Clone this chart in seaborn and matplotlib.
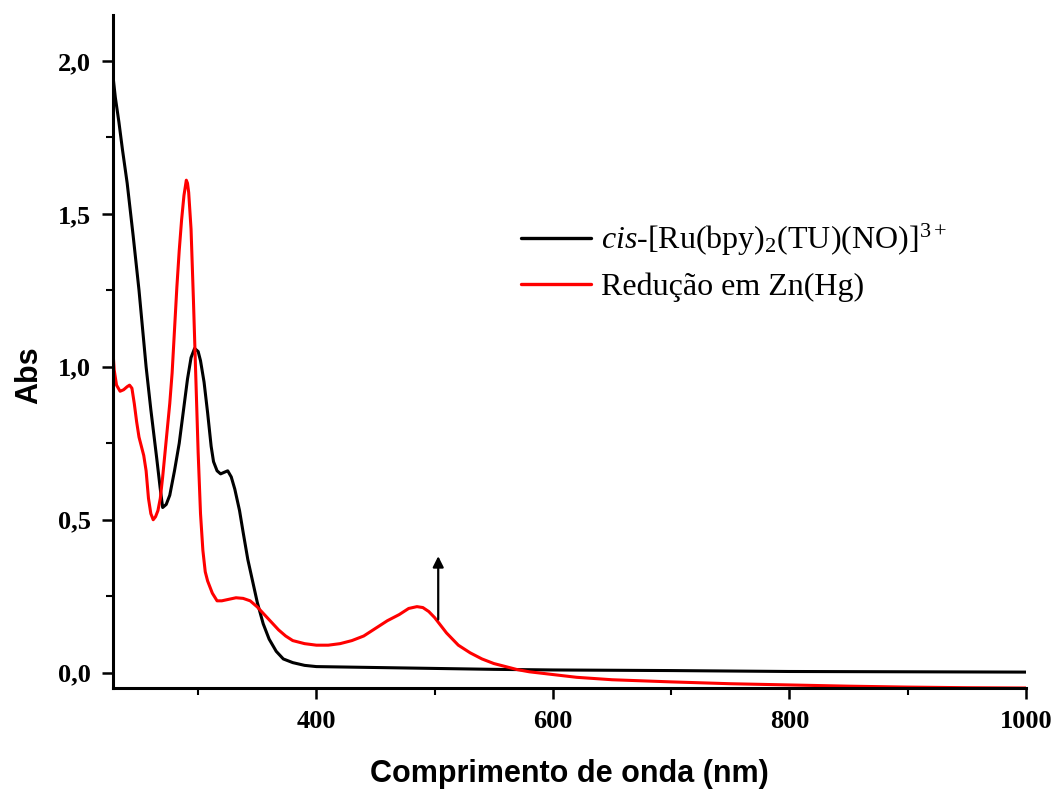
import numpy as np
import pandas as pd
import matplotlib
matplotlib.use("Agg")
import matplotlib.pyplot as plt
from matplotlib.ticker import MultipleLocator
import seaborn as sns

# Data
wl_cis = [228, 230, 233, 236, 240, 245, 250, 256, 260, 265, 268, 270, 273, 276, 280,
          284, 288, 291, 294, 297, 300, 302, 305, 308, 311, 313, 316, 319, 322, 325,
          328, 331, 335, 338, 342, 346, 350, 355, 360, 366, 372, 380, 390, 400, 450,
          500, 550, 600, 700, 800, 900, 1000]
abs_cis = [1.95, 1.88, 1.80, 1.71, 1.60, 1.43, 1.25, 1.00, 0.86, 0.70, 0.60, 0.54, 0.55,
           0.58, 0.66, 0.75, 0.87, 0.96, 1.03, 1.06, 1.05, 1.02, 0.95, 0.85, 0.74, 0.69,
           0.66, 0.65, 0.655, 0.66, 0.64, 0.60, 0.53, 0.46, 0.37, 0.30, 0.23, 0.16, 0.11,
           0.07, 0.045, 0.033, 0.024, 0.020, 0.017, 0.014, 0.011, 0.009, 0.007, 0.004,
           0.003, 0.002]

wl_red = [228, 229, 231, 234, 237, 240, 242, 244, 246, 248, 250, 252, 254, 256, 258, 260,
          262, 264, 266, 268, 270, 272, 274, 276, 278, 280, 282, 284, 286, 288, 290, 291,
          292, 294, 296, 298, 300, 302, 304, 306, 308, 312, 316, 320, 326, 332, 338, 344,
          350, 356, 362, 368, 374, 380, 390, 400, 410, 420, 430, 440, 450, 460, 470, 478,
          485, 490, 495, 500, 505, 510, 520, 530, 540, 550, 560, 570, 580, 600, 620, 650,
          700, 750, 800, 850, 900, 950, 1000]
abs_red = [1.05, 0.99, 0.94, 0.92, 0.925, 0.935, 0.94, 0.93, 0.88, 0.82, 0.77, 0.74, 0.71,
           0.66, 0.57, 0.52, 0.50, 0.51, 0.53, 0.57, 0.64, 0.72, 0.80, 0.88, 0.98, 1.12,
           1.26, 1.38, 1.48, 1.56, 1.61, 1.60, 1.57, 1.45, 1.22, 0.97, 0.72, 0.52, 0.40,
           0.33, 0.30, 0.26, 0.235, 0.235, 0.24, 0.245, 0.243, 0.235, 0.215, 0.19, 0.165,
           0.14, 0.12, 0.105, 0.095, 0.09, 0.09, 0.095, 0.105, 0.12, 0.145, 0.17, 0.19,
           0.21, 0.216, 0.213, 0.20, 0.18, 0.155, 0.13, 0.09, 0.065, 0.045, 0.03, 0.02,
           0.01, 0.003, -0.006, -0.015, -0.023, -0.03, -0.036, -0.04, -0.044, -0.047,
           -0.049, -0.05]

label_cis = r"$\it{cis}$-[Ru(bpy)$_2$(TU)(NO)]$^{3+}$"
label_red = "Redução em Zn(Hg)"

x_ticks = [400, 600, 800, 1000]
y_ticks = [0.0, 0.5, 1.0, 1.5, 2.0]
y_tick_labels = ["0,0", "0,5", "1,0", "1,5", "2,0"]

arrow_x = 503
arrow_y0, arrow_y1 = 0.165, 0.39

df = pd.concat([
    pd.DataFrame({"wl": wl_cis, "abs": abs_cis, "amostra": label_cis}),
    pd.DataFrame({"wl": wl_red, "abs": abs_red, "amostra": label_red}),
], ignore_index=True)

sns.set_style("ticks")
plt.rcParams["mathtext.fontset"] = "custom"
plt.rcParams["mathtext.rm"] = "Liberation Serif"
plt.rcParams["mathtext.it"] = "Liberation Serif:italic"

fig = plt.figure(figsize=(10.56, 7.89), dpi=100)
ax = fig.add_axes([0.107, 0.128, 0.8646, 0.853])

sns.lineplot(data=df, x="wl", y="abs", hue="amostra", sort=False,
             palette={label_cis: "black", label_red: "red"},
             linewidth=2.2, ax=ax)

ax.set_xlim(228, 1000)
ax.set_ylim(-0.05, 2.15)
ax.set_xticks(x_ticks)
ax.xaxis.set_minor_locator(MultipleLocator(100))
ax.set_yticks(y_ticks)
ax.set_yticklabels(y_tick_labels)
ax.yaxis.set_minor_locator(MultipleLocator(0.25))

for lab in ax.get_xticklabels() + ax.get_yticklabels():
    lab.set_fontfamily("Liberation Serif")
    lab.set_fontweight("bold")
    lab.set_fontsize(19)

ax.tick_params(which="major", direction="out", length=8, width=1.8, pad=8,
               colors="black")
ax.tick_params(which="minor", direction="out", length=5, width=1.5, colors="black")
sns.despine(ax=ax)
for s in ["left", "bottom"]:
    ax.spines[s].set_linewidth(2.2)
    ax.spines[s].set_color("black")

ax.set_xlabel("Comprimento de onda (nm)", fontfamily="Liberation Sans",
              fontweight="bold", fontsize=22, color="black")
ax.set_ylabel("Abs", fontfamily="Liberation Sans", fontweight="bold",
              fontsize=22, color="black")
ax.xaxis.set_label_coords(0.4995, -0.105)
ax.yaxis.set_label_coords(-0.075, 0.465)

ax.annotate("", xy=(arrow_x, arrow_y1), xytext=(arrow_x, arrow_y0),
            arrowprops=dict(arrowstyle="-|>", color="black", lw=1.6,
                            mutation_scale=16))

leg = ax.legend(loc="upper left", bbox_to_anchor=(0.415, 0.735), frameon=False,
                handlelength=2.2, handletextpad=0.3, labelspacing=0.45,
                labelcolor="black",
                prop={"family": "Liberation Serif", "size": 23})
for line in leg.get_lines():
    line.set_linewidth(2.4)

fig.savefig("out.png", dpi=100)
